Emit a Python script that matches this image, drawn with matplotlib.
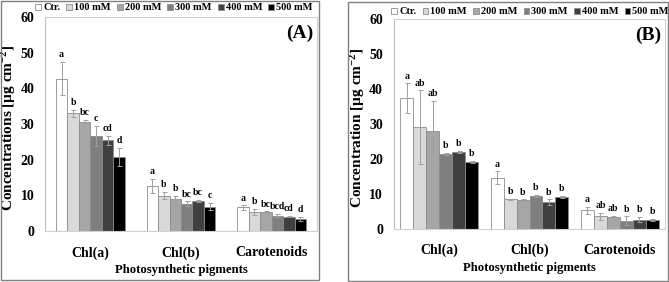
import matplotlib
matplotlib.use("Agg")
import matplotlib.pyplot as plt
from matplotlib.patches import Rectangle
import numpy as np

plt.rcParams['font.family'] = ['Liberation Serif', 'DejaVu Serif']
plt.rcParams['font.weight'] = 'bold'
plt.rcParams['mathtext.fontset'] = 'custom'
plt.rcParams['mathtext.rm'] = 'Liberation Serif:bold'
plt.rcParams['mathtext.it'] = 'Liberation Serif:bold'
plt.rcParams['mathtext.bf'] = 'Liberation Serif:bold'

categories = ["Chl(a)", "Chl(b)", "Carotenoids"]
treatments = ["Ctr.", "100 mM", "200 mM", "300 mM", "400 mM", "500 mM"]
colors = ["#ffffff", "#d9d9d9", "#a6a6a6", "#7f7f7f", "#404040", "#000000"]

# Panel A values [category][treatment]
vals_a = [[42.7, 33.0, 30.5, 26.6, 25.4, 20.8],
          [12.7, 9.9, 9.1, 7.7, 8.4, 6.8],
          [6.6, 5.4, 5.2, 4.3, 4.0, 3.4]]
err_a = [[4.7, 1.0, 0.6, 2.8, 1.2, 2.5],
         [2.0, 1.0, 0.8, 0.6, 0.4, 1.0],
         [0.6, 0.9, 0.3, 0.4, 0.2, 0.5]]
let_a = [["a", "b", "bc", "c", "cd", "d"],
         ["a", "b", "b", "bc", "bc", "c"],
         ["a", "b", "bc", "bcd", "cd", "d"]]

# Panel B values
vals_b = [[37.3, 29.1, 27.9, 21.3, 22.0, 19.0],
          [14.6, 8.4, 8.2, 9.3, 7.6, 9.1],
          [5.3, 3.6, 3.4, 2.3, 2.6, 2.5]]
err_b = [[4.3, 10.5, 8.6, 0.3, 0.3, 0.3],
         [1.8, 0.2, 0.2, 0.3, 0.8, 0.2],
         [1.0, 1.0, 0.3, 1.2, 0.8, 0.2]]
let_b = [["a", "ab", "ab", "b", "b", "b"],
         ["a", "b", "b", "b", "b", "b"],
         ["a", "ab", "ab", "b", "b", "b"]]

yticks = [0, 10, 20, 30, 40, 50, 60]

W, H = 669, 282
fig = plt.figure(figsize=(W / 100, H / 100), dpi=100)

def px_rect(x0, y0, x1, y1):
    return [x0 / W, 1 - y1 / H, (x1 - x0) / W, (y1 - y0) / H]

# outer chart frames
for (x0, y0, x1, y1) in [(1, 0.5, 319, 280), (348, 2, 668, 281)]:
    fig.patches.append(Rectangle((x0 / W, 1 - y1 / H), (x1 - x0) / W, (y1 - y0) / H,
                                 transform=fig.transFigure, fill=False,
                                 edgecolor="#808080", linewidth=1.0))

def draw(ax, vals, errs, lets, group_w, ylabel, panel, ylab_x, ypad, legend_xy):
    n = len(treatments)
    bw = group_w / n
    x = np.arange(len(categories))
    handles = []
    for i in range(n):
        v = [vals[c][i] for c in range(len(categories))]
        e = [errs[c][i] for c in range(len(categories))]
        pos = x - group_w / 2 + bw * (i + 0.5)
        b = ax.bar(pos, v, bw, color=colors[i], edgecolor="#8c8c8c", linewidth=0.6,
                   yerr=e, error_kw=dict(ecolor="#a0a0a0", elinewidth=0.7, capsize=1.8, capthick=0.7),
                   label=treatments[i], zorder=2)
        handles.append(b)
        for c in range(len(categories)):
            ax.annotate(lets[c][i], (pos[c], v[c] + e[c]), xytext=(0, 2), textcoords="offset points",
                        ha="center", va="bottom", fontsize=7, fontweight="bold")
    ax.set_xlim(-0.5, len(categories) - 0.5)
    ax.set_ylim(0, 60)
    ax.set_yticks(yticks)
    ax.set_xticks(x)
    ax.set_xticklabels(categories, fontsize=10, fontweight="bold")
    ax.tick_params(axis="both", length=0, labelsize=10)
    ax.tick_params(axis="y", pad=ypad)
    ax.tick_params(axis="x", pad=11)
    for lab in ax.get_yticklabels():
        lab.set_fontweight("bold")
    for s in ax.spines.values():
        s.set_color("#d0d0d0")
        s.set_linewidth(0.8)
    ax.spines["left"].set_color("#bfbfbf")
    ax.set_xlabel("Photosynthetic pigments", fontsize=9.2, fontweight="bold", labelpad=3)
    ax.set_ylabel(ylabel, fontsize=11, fontweight="bold")
    ax.yaxis.set_label_coords(ylab_x, 0.48)
    ax.text(0.985, 0.965, panel, transform=ax.transAxes, ha="right", va="top",
            fontsize=14, fontweight="bold")
    fig.legend(handles=handles, labels=treatments, loc="center", bbox_to_anchor=legend_xy,
               ncol=6, frameon=False, handlelength=0.55, handleheight=0.55,
               handletextpad=0.2, columnspacing=0.6, borderaxespad=0,
               prop=dict(weight="bold", size=7.5))

axA = fig.add_axes(px_rect(45, 17, 317, 231))
draw(axA, vals_a, err_a, let_a, 0.76, "Concentrations [µg cm$^{-2}$]", "(A)", -0.1, 7.5,
     (174 / W, 1 - 8 / H))

axB = fig.add_axes(px_rect(394, 19, 665, 228.7))
draw(axB, vals_b, err_b, let_b, 0.86, "Concentration [µg cm$^{-2}$]", "(B)", -0.1, 8,
     (530 / W, 1 - 12 / H))

fig.savefig("out.png", dpi=100)
